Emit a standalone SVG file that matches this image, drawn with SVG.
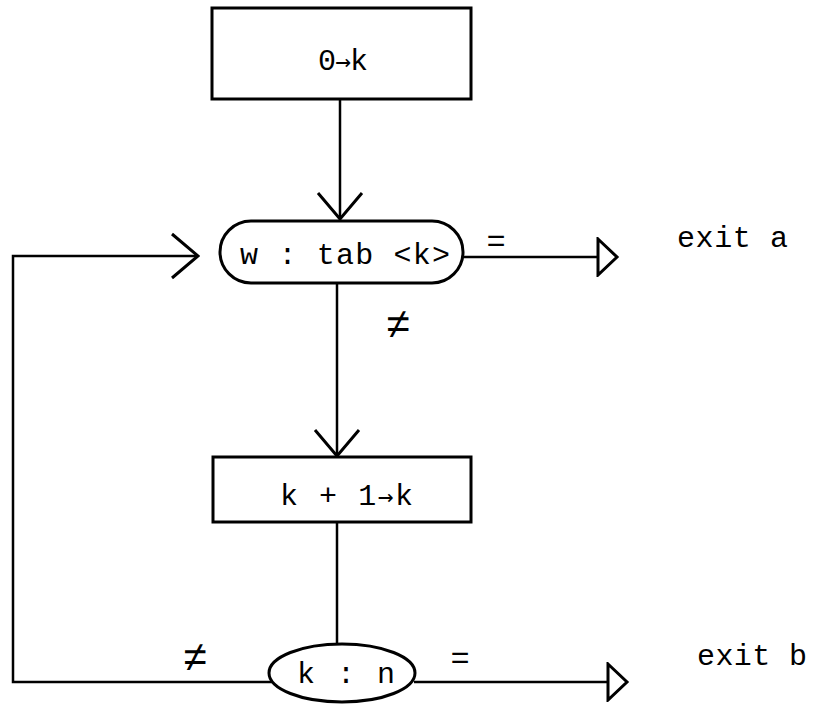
<svg xmlns="http://www.w3.org/2000/svg" width="816" height="704" viewBox="0 0 816 704">
<style>
  .node { fill: #ffffff; stroke: #000000; stroke-width: 3; }
  .edge { fill: none; stroke: #000000; stroke-width: 2.5; }
  .t { font-family: "Courier New", "Liberation Mono", "DejaVu Sans Mono", monospace; font-size: 30px; fill: #000000; }
  .arr { font-family: "DejaVu Sans Mono", monospace; font-size: 26px; }
  .lbl { font-family: "Liberation Mono", "DejaVu Sans Mono", monospace; font-size: 32px; fill: #000000; }
  .ne { font-family: "Liberation Mono", "DejaVu Sans Mono", monospace; font-size: 42px; fill: #000000; }
</style>
<defs>
  <marker id="vee" viewBox="0 0 30 48" refX="28" refY="24" markerWidth="30" markerHeight="48" markerUnits="userSpaceOnUse" orient="auto">
    <path d="M2,2 L28,24 L2,46" fill="none" stroke="#000" stroke-width="3"/>
  </marker>
  <marker id="tri" viewBox="0 0 24 40" refX="21" refY="20" markerWidth="24" markerHeight="40" markerUnits="userSpaceOnUse" orient="auto">
    <path d="M2,2 L21,20 L2,38 Z" fill="#fff" stroke="#000" stroke-width="3"/>
  </marker>
</defs>
<rect width="816" height="704" fill="#ffffff"/>
<g id="connectors">
  <path class="edge" d="M340,99 L340,219" marker-end="url(#vee)"/>
  <path class="edge" d="M463,257 L617,257" marker-end="url(#tri)"/>
  <path class="edge" d="M337,283 L337,456" marker-end="url(#vee)"/>
  <path class="edge" d="M337,522 L337,645"/>
  <path class="edge" d="M414,682 L627,682" marker-end="url(#tri)"/>
  <path class="edge" d="M272,682 L13,682 L13,256 L198,256" marker-end="url(#vee)"/>
  <text class="lbl" x="496" y="251" text-anchor="middle">=</text>
  <text class="ne" x="398" y="338" text-anchor="middle">≠</text>
  <text class="lbl" x="460" y="668" text-anchor="middle">=</text>
  <text class="ne" x="195" y="671" text-anchor="middle">≠</text>
</g>
<g id="init">
  <rect class="node" x="212" y="8" width="259" height="91"/>
  <text class="t" x="318" y="70" textLength="50" lengthAdjust="spacing">0<tspan class="arr">→</tspan>k</text>
</g>
<g id="test-w">
  <rect class="node" x="220" y="221" width="243" height="62" rx="31" ry="31"/>
  <text class="t" x="240" y="264" textLength="210" lengthAdjust="spacing">w : tab &lt;k&gt;</text>
</g>
<g id="exit-a">
  <text class="t" x="677" y="247" textLength="111" lengthAdjust="spacing">exit a</text>
</g>
<g id="increment">
  <rect class="node" x="213" y="457" width="258" height="65"/>
  <text class="t" x="280" y="505" textLength="133" lengthAdjust="spacing">k + 1<tspan class="arr">→</tspan>k</text>
</g>
<g id="test-n">
  <ellipse class="node" cx="342" cy="673" rx="73" ry="29" stroke-width="3.5"/>
  <text class="t" x="297" y="683" textLength="98" lengthAdjust="spacing">k : n</text>
</g>
<g id="exit-b">
  <text class="t" x="697" y="665" textLength="110" lengthAdjust="spacing">exit b</text>
</g>
</svg>
